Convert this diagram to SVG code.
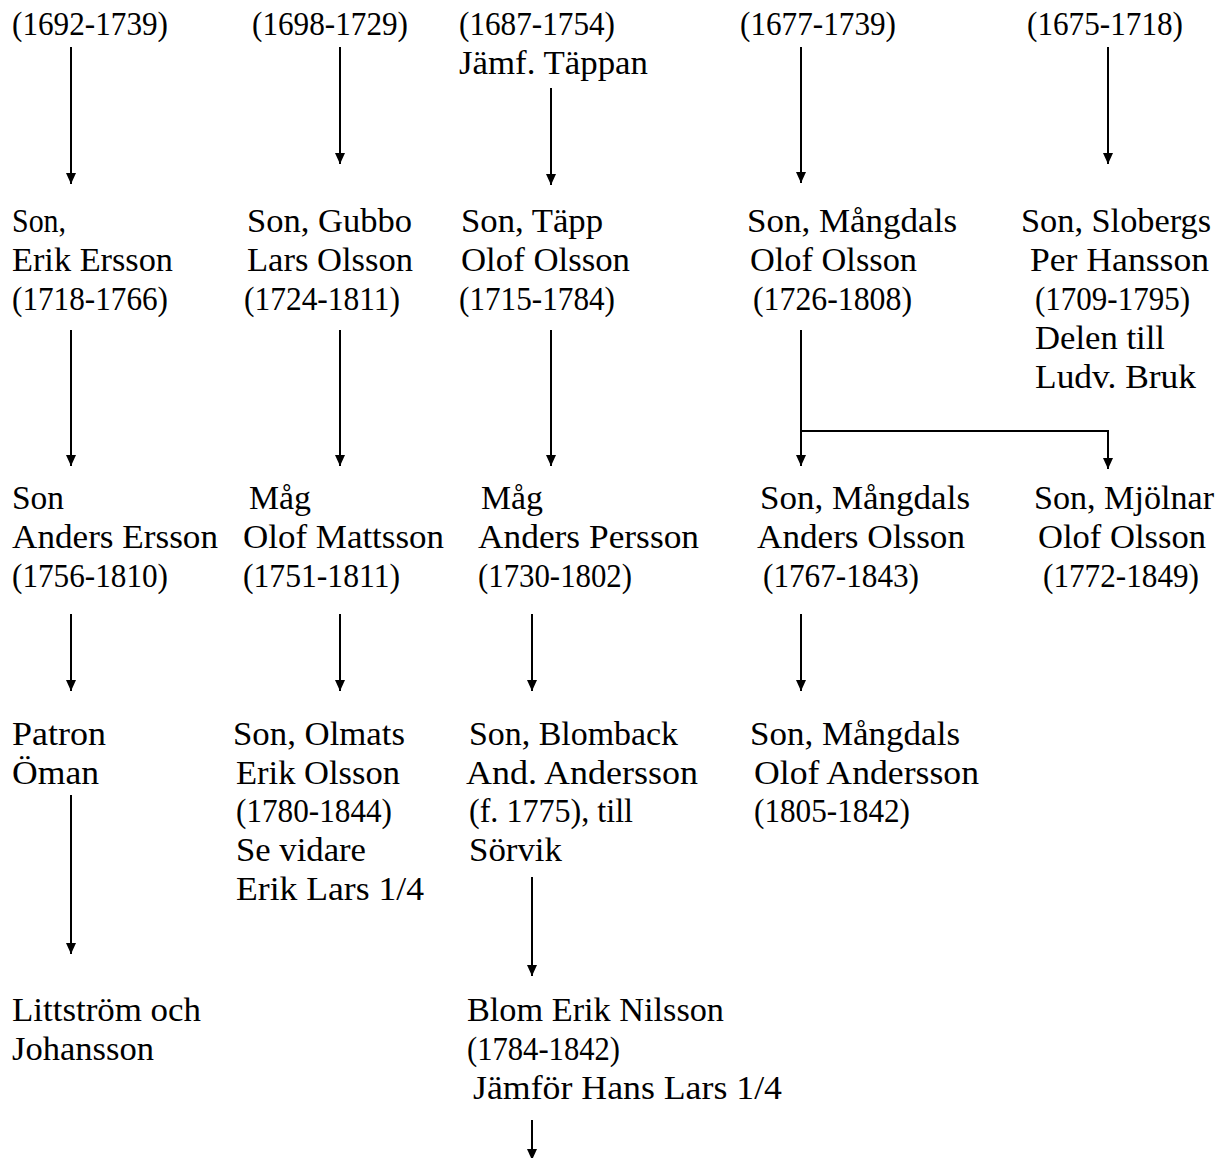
<svg xmlns="http://www.w3.org/2000/svg" width="1222" height="1158" viewBox="0 0 1222 1158">
<defs>
<style>
text { font-family: "Liberation Serif", "Times New Roman", serif; font-size: 33px; fill: #000; }
.c { stroke: #000; stroke-width: 2; fill: none; marker-end: url(#ah); }
</style>
<marker id="ah" viewBox="0 0 11 10" refX="11" refY="5" markerWidth="11" markerHeight="10" markerUnits="userSpaceOnUse" orient="auto">
<path d="M0,0 L11,5 L0,10 Z" fill="#000"/>
</marker>
</defs>
<rect width="1222" height="1158" fill="#fff"/>

<g id="connectors">
<line class="c" x1="71" y1="47" x2="71" y2="184"/>
<line class="c" x1="340" y1="47" x2="340" y2="164"/>
<line class="c" x1="551" y1="88" x2="551" y2="185"/>
<line class="c" x1="801" y1="47" x2="801" y2="183"/>
<line class="c" x1="1108" y1="47" x2="1108" y2="164"/>

<line class="c" x1="71" y1="330" x2="71" y2="466"/>
<line class="c" x1="340" y1="330" x2="340" y2="466"/>
<line class="c" x1="551" y1="330" x2="551" y2="466"/>
<line class="c" x1="801" y1="330" x2="801" y2="466"/>
<polyline class="c" points="801,431 1108,431 1108,469"/>

<line class="c" x1="71" y1="614" x2="71" y2="691"/>
<line class="c" x1="340" y1="614" x2="340" y2="691"/>
<line class="c" x1="532" y1="614" x2="532" y2="691"/>
<line class="c" x1="801" y1="614" x2="801" y2="691"/>

<line class="c" x1="71" y1="795" x2="71" y2="954"/>
<line class="c" x1="532" y1="877" x2="532" y2="976"/>
<line class="c" x1="532" y1="1120" x2="532" y2="1160"/>
</g>

<g id="n1a"><text x="12" y="35" textLength="156" lengthAdjust="spacingAndGlyphs">(1692-1739)</text></g>
<g id="n1b"><text x="252" y="35" textLength="156" lengthAdjust="spacingAndGlyphs">(1698-1729)</text></g>
<g id="n1c"><text x="459" y="35" textLength="156" lengthAdjust="spacingAndGlyphs">(1687-1754)</text>
<text x="459" y="74" textLength="189" lengthAdjust="spacingAndGlyphs">Jämf. Täppan</text></g>
<g id="n1d"><text x="740" y="35" textLength="156" lengthAdjust="spacingAndGlyphs">(1677-1739)</text></g>
<g id="n1e"><text x="1027" y="35" textLength="156" lengthAdjust="spacingAndGlyphs">(1675-1718)</text></g>

<g id="n2a"><text x="12" y="232" textLength="54" lengthAdjust="spacingAndGlyphs">Son,</text>
<text x="12" y="271" textLength="161" lengthAdjust="spacingAndGlyphs">Erik Ersson</text>
<text x="12" y="310" textLength="156" lengthAdjust="spacingAndGlyphs">(1718-1766)</text></g>
<g id="n2b"><text x="247" y="232" textLength="165" lengthAdjust="spacingAndGlyphs">Son, Gubbo</text>
<text x="247" y="271" textLength="166" lengthAdjust="spacingAndGlyphs">Lars Olsson</text>
<text x="244" y="310" textLength="156" lengthAdjust="spacingAndGlyphs">(1724-1811)</text></g>
<g id="n2c"><text x="461" y="232" textLength="142" lengthAdjust="spacingAndGlyphs">Son, Täpp</text>
<text x="461" y="271" textLength="169" lengthAdjust="spacingAndGlyphs">Olof Olsson</text>
<text x="459" y="310" textLength="156" lengthAdjust="spacingAndGlyphs">(1715-1784)</text></g>
<g id="n2d"><text x="747" y="232" textLength="210" lengthAdjust="spacingAndGlyphs">Son, Mångdals</text>
<text x="750" y="271" textLength="167" lengthAdjust="spacingAndGlyphs">Olof Olsson</text>
<text x="753" y="310" textLength="159" lengthAdjust="spacingAndGlyphs">(1726-1808)</text></g>
<g id="n2e"><text x="1021" y="232" textLength="190" lengthAdjust="spacingAndGlyphs">Son, Slobergs</text>
<text x="1030" y="271" textLength="179" lengthAdjust="spacingAndGlyphs">Per Hansson</text>
<text x="1035" y="310" textLength="155" lengthAdjust="spacingAndGlyphs">(1709-1795)</text>
<text x="1035" y="349" textLength="130" lengthAdjust="spacingAndGlyphs">Delen till</text>
<text x="1035" y="388" textLength="161" lengthAdjust="spacingAndGlyphs">Ludv. Bruk</text></g>

<g id="n3a"><text x="12" y="509" textLength="52" lengthAdjust="spacingAndGlyphs">Son</text>
<text x="12" y="548" textLength="206" lengthAdjust="spacingAndGlyphs">Anders Ersson</text>
<text x="12" y="587" textLength="156" lengthAdjust="spacingAndGlyphs">(1756-1810)</text></g>
<g id="n3b"><text x="249" y="509" textLength="62" lengthAdjust="spacingAndGlyphs">Måg</text>
<text x="243" y="548" textLength="201" lengthAdjust="spacingAndGlyphs">Olof Mattsson</text>
<text x="243" y="587" textLength="157" lengthAdjust="spacingAndGlyphs">(1751-1811)</text></g>
<g id="n3c"><text x="481" y="509" textLength="62" lengthAdjust="spacingAndGlyphs">Måg</text>
<text x="478" y="548" textLength="221" lengthAdjust="spacingAndGlyphs">Anders Persson</text>
<text x="478" y="587" textLength="154" lengthAdjust="spacingAndGlyphs">(1730-1802)</text></g>
<g id="n3d"><text x="760" y="509" textLength="210" lengthAdjust="spacingAndGlyphs">Son, Mångdals</text>
<text x="757" y="548" textLength="208" lengthAdjust="spacingAndGlyphs">Anders Olsson</text>
<text x="763" y="587" textLength="156" lengthAdjust="spacingAndGlyphs">(1767-1843)</text></g>
<g id="n3e"><text x="1034" y="509" textLength="180" lengthAdjust="spacingAndGlyphs">Son, Mjölnar</text>
<text x="1038" y="548" textLength="168" lengthAdjust="spacingAndGlyphs">Olof Olsson</text>
<text x="1043" y="587" textLength="156" lengthAdjust="spacingAndGlyphs">(1772-1849)</text></g>

<g id="n4a"><text x="12" y="745" textLength="94" lengthAdjust="spacingAndGlyphs">Patron</text>
<text x="12" y="784" textLength="87" lengthAdjust="spacingAndGlyphs">Öman</text></g>
<g id="n4b"><text x="233" y="745" textLength="172" lengthAdjust="spacingAndGlyphs">Son, Olmats</text>
<text x="236" y="784" textLength="164" lengthAdjust="spacingAndGlyphs">Erik Olsson</text>
<text x="236" y="822" textLength="156" lengthAdjust="spacingAndGlyphs">(1780-1844)</text>
<text x="236" y="861" textLength="130" lengthAdjust="spacingAndGlyphs">Se vidare</text>
<text x="236" y="900" textLength="188" lengthAdjust="spacingAndGlyphs">Erik Lars 1/4</text></g>
<g id="n4c"><text x="469" y="745" textLength="209" lengthAdjust="spacingAndGlyphs">Son, Blomback</text>
<text x="466" y="784" textLength="232" lengthAdjust="spacingAndGlyphs">And. Andersson</text>
<text x="469" y="822" textLength="164" lengthAdjust="spacingAndGlyphs">(f. 1775), till</text>
<text x="469" y="861" textLength="93" lengthAdjust="spacingAndGlyphs">Sörvik</text></g>
<g id="n4d"><text x="750" y="745" textLength="210" lengthAdjust="spacingAndGlyphs">Son, Mångdals</text>
<text x="754" y="784" textLength="225" lengthAdjust="spacingAndGlyphs">Olof Andersson</text>
<text x="754" y="822" textLength="156" lengthAdjust="spacingAndGlyphs">(1805-1842)</text></g>

<g id="n5a"><text x="12" y="1021" textLength="189" lengthAdjust="spacingAndGlyphs">Littström och</text>
<text x="12" y="1060" textLength="142" lengthAdjust="spacingAndGlyphs">Johansson</text></g>
<g id="n5b"><text x="467" y="1021" textLength="257" lengthAdjust="spacingAndGlyphs">Blom Erik Nilsson</text>
<text x="467" y="1060" textLength="153" lengthAdjust="spacingAndGlyphs">(1784-1842)</text>
<text x="473" y="1099" textLength="309" lengthAdjust="spacingAndGlyphs">Jämför Hans Lars 1/4</text></g>
</svg>
